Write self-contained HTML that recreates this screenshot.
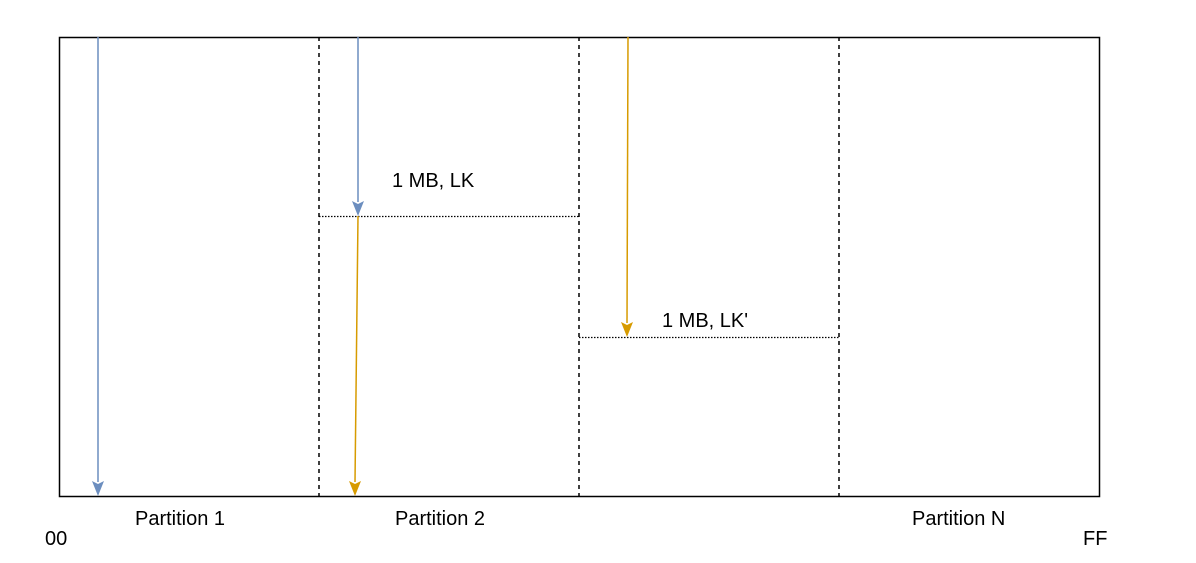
<!DOCTYPE html>
<html><head><meta charset="utf-8"><style>
body{margin:0;background:#fff}
svg text{font-family:"Liberation Sans",Helvetica,Arial,sans-serif;font-size:20px;fill:#000}
</style></head><body>
<svg width="1196" height="558" viewBox="0 0 1196 558">
<defs>
<marker id="ab" viewBox="0 0 10 10" refX="9" refY="5" markerWidth="5" markerHeight="5" orient="auto" markerUnits="userSpaceOnUse" style="overflow:visible"><path d="M0,0 L10,5 L0,10 L3,5 z" fill="#6c8ebf" transform="scale(1.5) translate(-3,-1.7)"/></marker>
<marker id="ao" viewBox="0 0 10 10" refX="9" refY="5" markerWidth="5" markerHeight="5" orient="auto" markerUnits="userSpaceOnUse" style="overflow:visible"><path d="M0,0 L10,5 L0,10 L3,5 z" fill="#d79b00" transform="scale(1.5) translate(-3,-1.7)"/></marker>
</defs>
<rect x="59.5" y="37.5" width="1040" height="459" fill="none" stroke="#000" stroke-width="1.5"/>
<line x1="319" y1="37" x2="319" y2="496" stroke="#000" stroke-width="1.5" stroke-dasharray="4,4"/>
<line x1="579" y1="37" x2="579" y2="496" stroke="#000" stroke-width="1.5" stroke-dasharray="4,4"/>
<line x1="839" y1="37" x2="839" y2="496" stroke="#000" stroke-width="1.5" stroke-dasharray="4,4"/>
<line x1="319" y1="216.5" x2="579" y2="216.5" stroke="#000" stroke-width="1.2" stroke-dasharray="1.5,1.5"/>
<line x1="579" y1="337.5" x2="839" y2="337.5" stroke="#000" stroke-width="1.2" stroke-dasharray="1.5,1.5"/>
<g><line x1="98" y1="37" x2="98" y2="482" stroke="#6c8ebf" stroke-width="1.5"/><path d="M92,481 L98,496 L104,481 L98,484 z" fill="#6c8ebf"/></g>
<g><line x1="358" y1="37" x2="358" y2="202" stroke="#6c8ebf" stroke-width="1.5"/><path d="M352,201 L358,216 L364,201 L358,204 z" fill="#6c8ebf"/></g>
<g><line x1="358" y1="216" x2="355" y2="482" stroke="#d79b00" stroke-width="1.5"/><path d="M349,481 L355,496 L361,481 L355,484 z" fill="#d79b00"/></g>
<g><line x1="628" y1="37" x2="627" y2="323" stroke="#d79b00" stroke-width="1.5"/><path d="M621,322 L627,337 L633,322 L627,325 z" fill="#d79b00"/></g>
<text x="392" y="187">1 MB, LK</text>
<text x="662" y="327">1 MB, LK'</text>
<text x="135" y="525">Partition 1</text>
<text x="395" y="525">Partition 2</text>
<text x="912" y="525">Partition N</text>
<text x="45" y="545">00</text>
<text x="1083" y="545">FF</text>
</svg>
</body></html>
